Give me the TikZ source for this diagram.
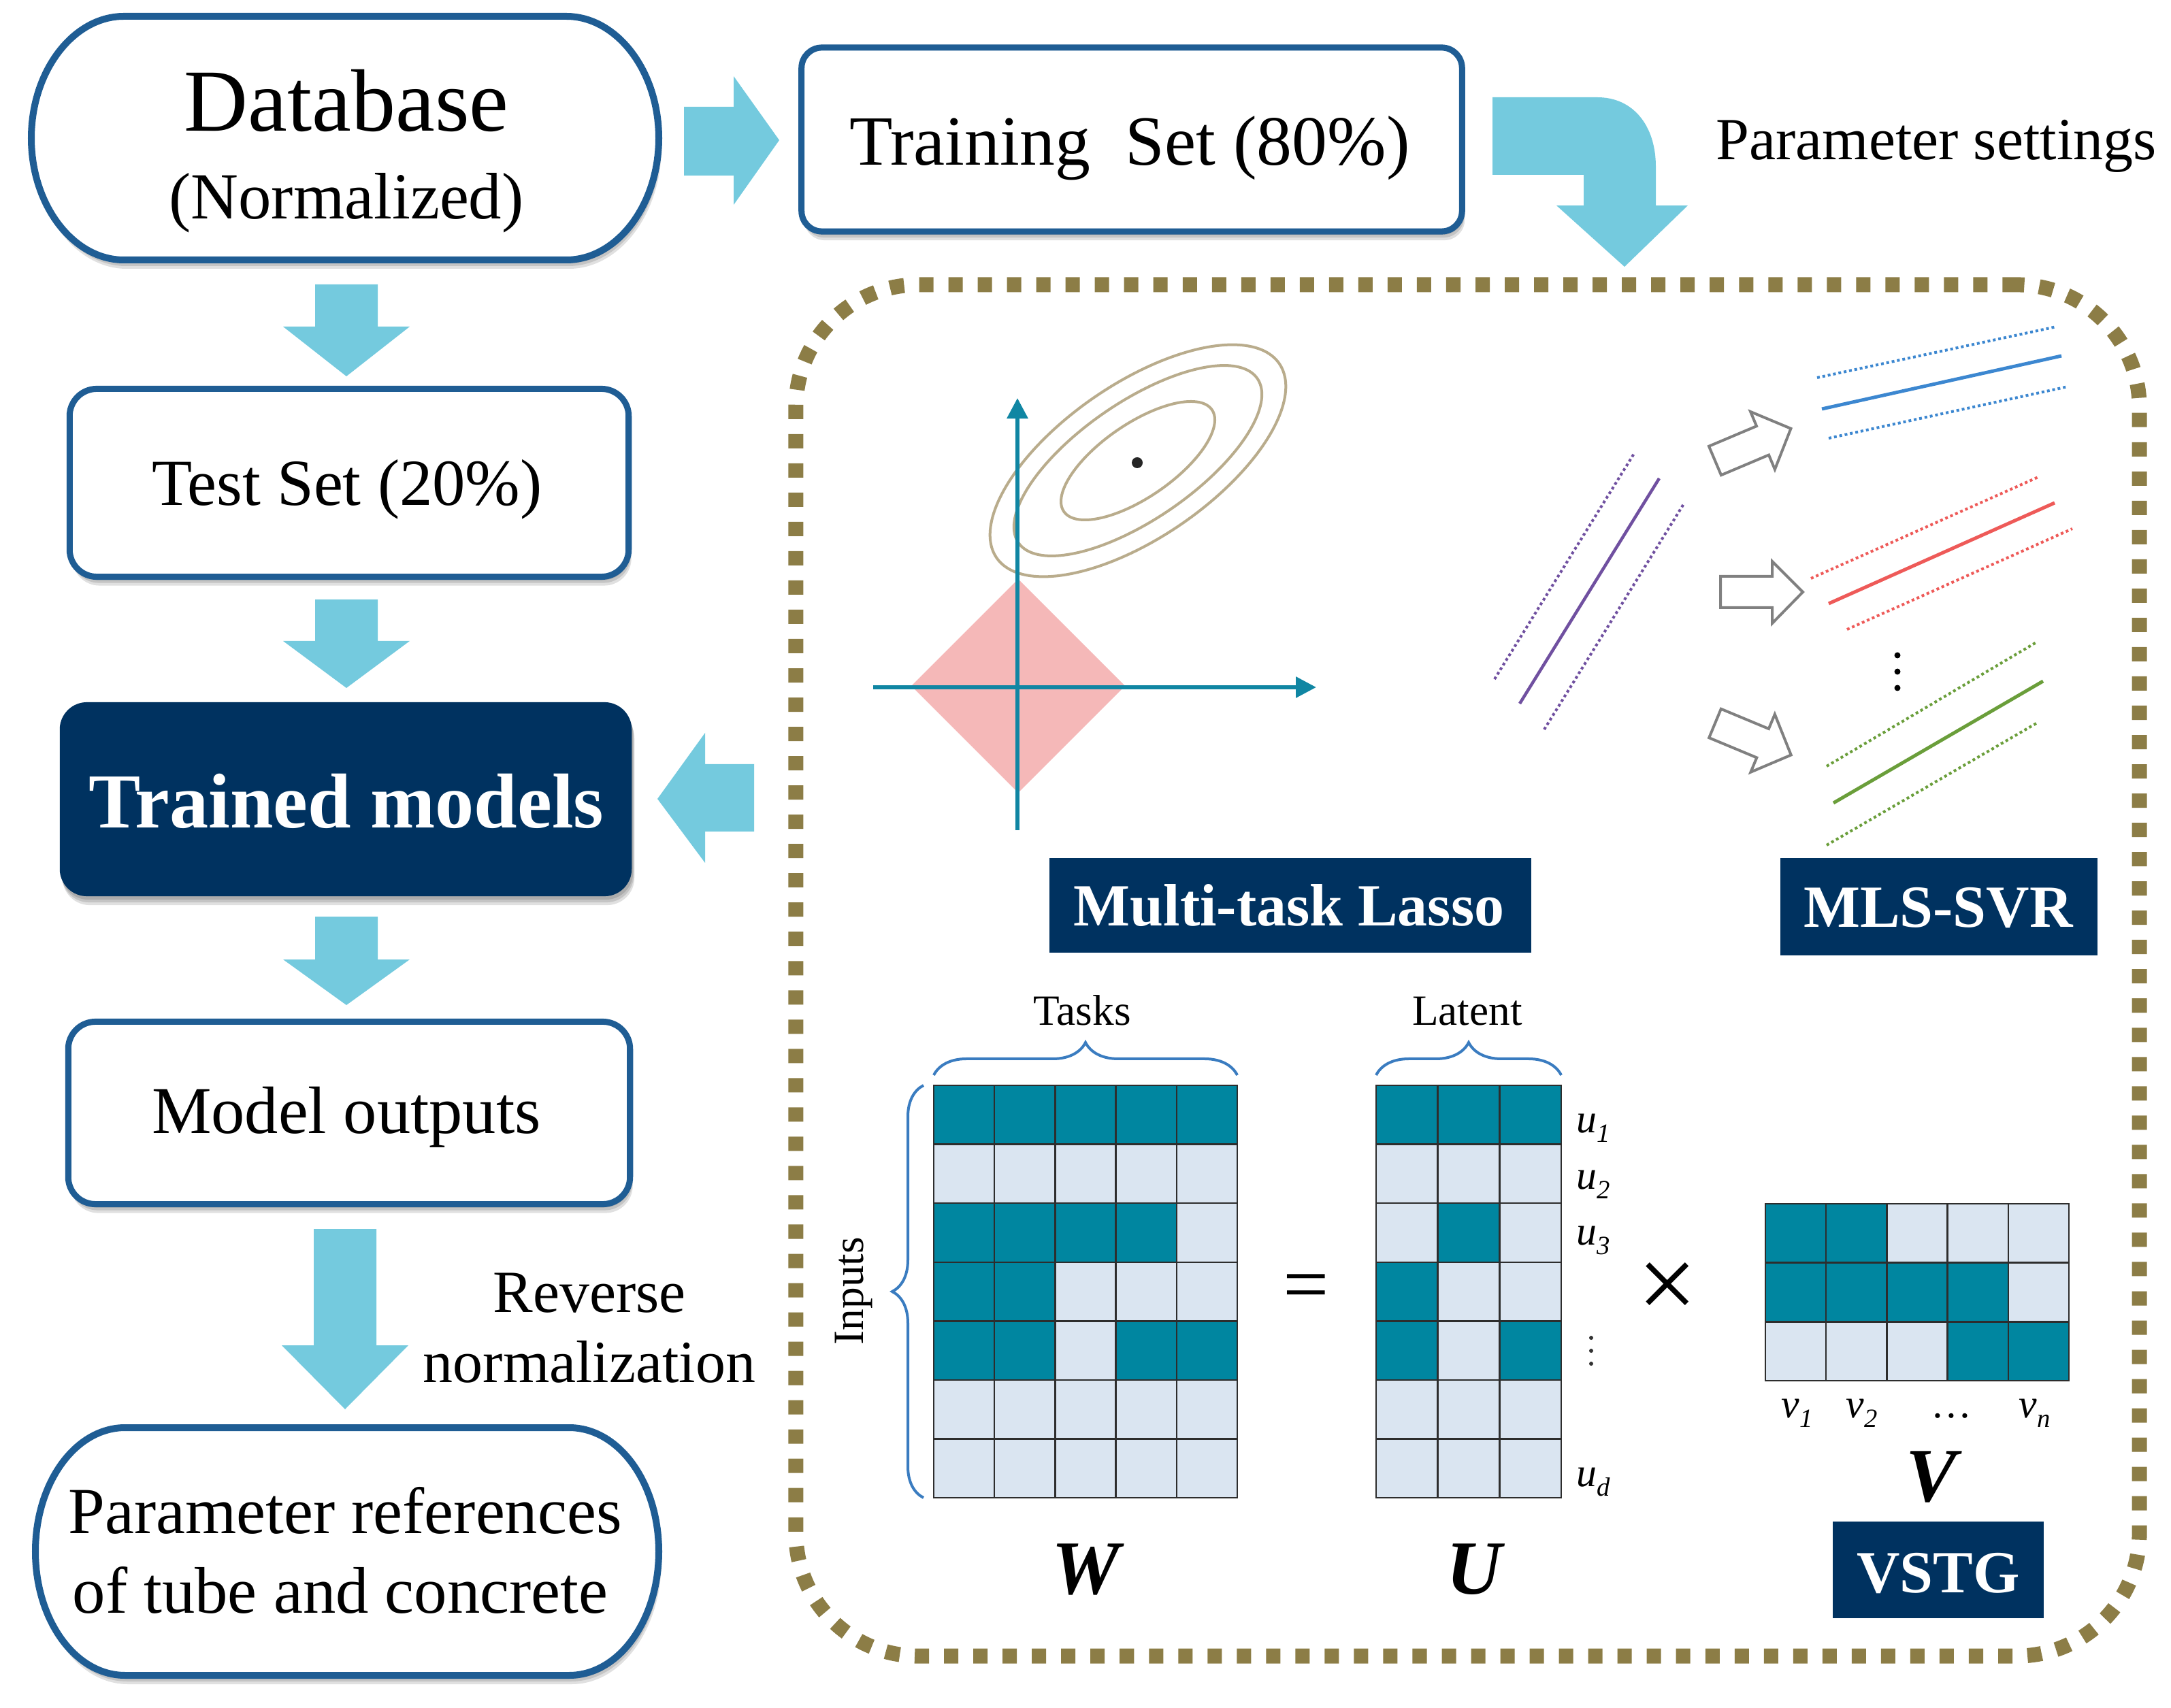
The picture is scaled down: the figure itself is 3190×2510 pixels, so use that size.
\documentclass[tikz,border=0pt]{standalone}
\usepackage{fontspec}
\setmainfont{Liberation Serif}
\usetikzlibrary{decorations.pathreplacing,arrows.meta}
\definecolor{bord}{RGB}{31,93,148}
\definecolor{navy}{RGB}{0,50,96}
\definecolor{blk}{RGB}{116,202,222}
\definecolor{olivec}{RGB}{140,125,70}
\definecolor{axisc}{RGB}{16,134,163}
\definecolor{dpink}{RGB}{245,184,184}
\definecolor{ellc}{RGB}{185,172,140}
\definecolor{mteal}{RGB}{0,134,160}
\definecolor{mlight}{RGB}{218,229,241}
\definecolor{gridc}{RGB}{45,45,45}
\definecolor{bracec}{RGB}{58,124,192}
\definecolor{lpurple}{RGB}{112,80,160}
\definecolor{lblue}{RGB}{60,135,208}
\definecolor{lred}{RGB}{238,90,88}
\definecolor{lgreen}{RGB}{106,158,58}
\definecolor{hollowc}{RGB}{128,128,128}
\colorlet{c1}{mteal}
\colorlet{c0}{mlight}
\newcommand{\setfs}[1]{\fontsize{#1}{#1}\selectfont}
\newcommand{\blkdown}[4]{\fill[blk] ({#1-46},#2) -- ({#1+46},#2) -- ({#1+46},#3) -- ({#1+93},#3) -- (#1,#4) -- ({#1-93},#3) -- ({#1-46},#3) -- cycle;}
\newcommand{\mymat}[5]{%
  \foreach \rw [count=\r from 0] in {#5} {
    \foreach \v [count=\c from 0] in \rw {
      \draw[fill=c\v, draw=gridc, line width=0.025cm] ({#1+\c*#3},{#2+\r*#4}) rectangle ++(#3,#4);
    }
  }
}
\tikzset{
  sh/.style={preaction={fill=black,opacity=0.12,transform canvas={xshift=0.02cm,yshift=-0.05cm}},
             preaction={fill=black,opacity=0.12,transform canvas={xshift=0.03cm,yshift=-0.09cm}},
             preaction={fill=black,opacity=0.12,transform canvas={xshift=0.04cm,yshift=-0.13cm}}},
  bbox/.style={draw=bord, line width=0.09cm, fill=white, rounded corners=0.4cm, sh, inner sep=0},
  txt/.style={inner sep=0, anchor=base},
  lab/.style={fill=navy, text=white, inner sep=0, font=\bfseries},
  dotl/.style={line width=0.04cm, dash pattern=on 0.04cm off 0.04cm},
  soll/.style={line width=0.05cm},
  hol/.style={draw=hollowc, line width=0.04cm, line join=miter},
  ax/.style={draw=axisc, line width=0.06cm, -{Triangle[width=0.3cm,length=0.3cm]}},
  brc/.style={draw=bracec, line width=0.04cm, decorate, decoration={brace, amplitude=0.48cm}},
  ell/.style={draw=ellc, line width=0.04cm}
}
\begin{document}
\begin{tikzpicture}[x=0.01cm, y=-0.01cm]
\fill[white] (0,0) rectangle (3190,2510);
\useasboundingbox (0,0) rectangle (3190,2510);

% ---------- left column ----------
% Database
\draw[draw=bord, line width=0.1cm, fill=white, sh]
  (182,24) -- (832,24) .. controls (906,24) and (968,104) .. (968,203)
  .. controls (968,302) and (906,382) .. (832,382) -- (182,382)
  .. controls (108,382) and (46,302) .. (46,203)
  .. controls (46,104) and (108,24) .. (182,24) -- cycle;
\node[inner sep=0, minimum width=9.22cm, minimum height=3.58cm] (db) at (507,203) {};
\node[txt] (dbt1) at (509,193) {\setfs{37}Database};
\node[txt] (dbt2) at (509,322) {\setfs{27.5}(Normalized)};

% Training set
\node[bbox, rounded corners=0.3cm, minimum width=9.7cm, minimum height=2.7cm] (train) at (1663,205) {};
\node[txt] (traint) at (1660,243) {\setfs{29.5}Training\ \ Set (80\%)};
\node[txt] (pset) at (2845,235) {\setfs{25}Parameter settings};

% Test set
\node[bbox, minimum width=8.21cm, minimum height=2.76cm] (test) at (513,709.5) {};
\node[txt] (testt) at (510,743) {\setfs{27.5}Test Set (20\%)};

% Trained models
\node[fill=navy, rounded corners=0.4cm, sh, inner sep=0, minimum width=8.4cm, minimum height=2.85cm] (trained) at (508,1174.5) {};
\node[txt, text=white] (trainedt) at (509,1216) {\setfs{32.5}\bfseries Trained models};

% Model outputs
\node[bbox, minimum width=8.25cm, minimum height=2.68cm] (model) at (513,1635.5) {};
\node[txt] (modelt) at (509,1665) {\setfs{28}Model outputs};

% Parameter references
\draw[draw=bord, line width=0.1cm, fill=white, sh]
  (184,2098) -- (836,2098) .. controls (910,2098) and (968,2180) .. (968,2280)
  .. controls (968,2380) and (910,2462) .. (836,2462) -- (184,2462)
  .. controls (110,2462) and (52,2380) .. (52,2280)
  .. controls (52,2180) and (110,2098) .. (184,2098) -- cycle;
\node[inner sep=0, minimum width=9.16cm, minimum height=3.64cm] (par) at (510,2280) {};
\node[txt] (part1) at (507,2253) {\setfs{27.5}Parameter references};
\node[txt] (part2) at (500,2370) {\setfs{27.5}of tube and concrete};

\node[txt] (rev1) at (866,1928) {\setfs{25}Reverse};
\node[txt] (rev2) at (866,2031) {\setfs{25}normalization};

% ---------- block arrows ----------
\fill[blk] (1005,157) -- (1078,157) -- (1078,112) -- (1145,206) -- (1078,301) -- (1078,258) -- (1005,258) -- cycle;
\fill[blk] (2193,143) -- (2347,143) .. controls (2400,143) and (2433,185) .. (2433,245) -- (2433,302)
  -- (2480,302) -- (2387,392) -- (2287,302) -- (2327,302) -- (2327,257) -- (2193,257) -- cycle;
\blkdown{509}{418}{480}{553}
\blkdown{509}{881}{942}{1011}
\blkdown{509}{1347}{1410}{1477}
\blkdown{507}{1806}{1977}{2071}
\fill[blk] (1108,1123) -- (1036,1123) -- (1036,1077) -- (966,1174) -- (1036,1268) -- (1036,1222) -- (1108,1222) -- cycle;

% ---------- dotted panel ----------
\node[draw=olivec, line width=0.22cm, dash pattern=on 0.21cm off 0.22cm, rounded corners=1.8cm,
      inner sep=0, minimum width=19.73cm, minimum height=20.14cm] (panel) at (2156.5,1426) {};

% ---------- Lasso sketch ----------
\fill[dpink] (1339,1008) -- (1496,851) -- (1653,1008) -- (1496,1165) -- cycle;
\draw[ell] plot[domain=0:360, samples=181] ({1672+252*cos(\x)*0.8241+113*sin(\x)*0.5664},{677-252*cos(\x)*0.5664+113*sin(\x)*0.8241}) -- cycle;
\draw[ell] plot[domain=0:360, samples=181] ({1672+213*cos(\x)*0.8241+86*sin(\x)*0.5664},{677-213*cos(\x)*0.5664+86*sin(\x)*0.8241}) -- cycle;
\draw[ell] plot[domain=0:360, samples=181] ({1672+132*cos(\x)*0.8241+54*sin(\x)*0.5664},{677-132*cos(\x)*0.5664+54*sin(\x)*0.8241}) -- cycle;
\fill[black!85] (1671,680) circle (0.08cm);
\draw[ax] (1495,1220) -- (1495,585);
\draw[ax] (1283,1010) -- (1934,1010);

% ---------- SVR sketch ----------
\draw[lpurple, dotl] (2196,998) -- (2402,665);
\draw[lpurple, line width=0.045cm] (2233,1034) -- (2438,703);
\draw[lpurple, dotl] (2269,1072) -- (2475,739);

\draw[hol] (2511.0,655.8) -- (2581.0,626.2) -- (2572.1,605.0) -- (2631.4,629.8) -- (2607.9,689.8) -- (2599.0,668.6) -- (2529.0,698.2) -- cycle;
\draw[hol] (2528,847) -- (2604,847) -- (2604,825) -- (2649,870) -- (2604,916) -- (2604,893) -- (2528,893) -- cycle;
\draw[hol] (2528.8,1041.8) -- (2598.9,1071.0) -- (2607.8,1049.7) -- (2631.7,1109.5) -- (2572.4,1134.7) -- (2581.3,1113.4) -- (2511.2,1084.2) -- cycle;

\draw[lblue, dotl] (2670,555) -- (3022,480);
\draw[lblue, soll] (2677,601) -- (3029,523);
\draw[lblue, dotl] (2687,644) -- (3039,568);
\draw[lred, dotl] (2661,850) -- (2995,701);
\draw[lred, soll] (2687,887) -- (3019,739);
\draw[lred, dotl] (2714,925) -- (3045,777);
\draw[lgreen, dotl] (2684,1126) -- (2992,944);
\draw[lgreen, soll] (2694,1180) -- (3002,1001);
\draw[lgreen, dotl] (2684,1242) -- (2992,1063);
\fill[black] (2788,963) circle (0.045cm) (2788,987) circle (0.045cm) (2788,1011) circle (0.045cm);

% ---------- labels ----------
\node[lab, minimum width=7.08cm, minimum height=1.39cm] (mtl) at (1896,1330.5) {};
\node[txt, text=white] (mtlt) at (1894,1360) {\setfs{25}\bfseries Multi-task Lasso};
\node[lab, minimum width=4.66cm, minimum height=1.43cm] (svr) at (2849,1332.5) {};
\node[txt, text=white] (svrt) at (2848,1363) {\setfs{25}\bfseries MLS-SVR};
\node[lab, minimum width=3.1cm, minimum height=1.42cm] (vstg) at (2848,2307) {};
\node[txt, text=white] (vstgt) at (2848,2340) {\setfs{25}\bfseries VSTG};

% ---------- matrices ----------
\mymat{1372}{1595}{89.2}{86.6}{{1,1,1,1,1},{0,0,0,0,0},{1,1,1,1,0},{1,1,0,0,0},{1,1,0,1,1},{0,0,0,0,0},{0,0,0,0,0}}
\mymat{2022}{1595}{90.7}{86.6}{{1,1,1},{0,0,0},{0,1,0},{1,0,0},{1,0,1},{0,0,0},{0,0,0}}
\mymat{2594}{1769}{89.2}{86.7}{{1,1,0,0,0},{1,1,1,1,0},{0,0,0,1,1}}

\draw[brc] (1372,1580) -- (1818,1580);
\draw[brc] (2022,1580) -- (2294,1580);
\draw[brc, decoration={amplitude=0.46cm}] (1357,2201) -- (1357,1595);
\node[txt] (tasks) at (1590,1506) {\setfs{18}Tasks};
\node[txt] (latent) at (2156,1506) {\setfs{18}Latent};
\node[inner sep=0, rotate=90] (inputs) at (1254,1897) {\setfs{18}Inputs};

\node[inner sep=0] (eq) at (1919,1900) {\setfs{34}=};
\node[inner sep=0] (times) at (2450,1897) {\setfs{44}×};

\node[txt, anchor=base west] (u1) at (2316,1664) {\setfs{17}\textit{u}\raisebox{-4pt}{\setfs{11}\textit{1}}};
\node[txt, anchor=base west] (u2) at (2316,1747) {\setfs{17}\textit{u}\raisebox{-4pt}{\setfs{11}\textit{2}}};
\node[txt, anchor=base west] (u3) at (2316,1829) {\setfs{17}\textit{u}\raisebox{-4pt}{\setfs{11}\textit{3}}};
\fill[black!80] (2338,1966) circle (0.03cm) (2338,1985) circle (0.03cm) (2338,2004) circle (0.03cm);
\node[txt, anchor=base west] (u4) at (2316,2184) {\setfs{17}\textit{u}\raisebox{-4pt}{\setfs{11}\textit{d}}};

\node[txt, anchor=base west] (v1) at (2617,2083) {\setfs{17}\textit{v}\raisebox{-4pt}{\setfs{11}\textit{1}}};
\node[txt, anchor=base west] (v2) at (2712,2083) {\setfs{17}\textit{v}\raisebox{-4pt}{\setfs{11}\textit{2}}};
\node[txt] (vdots) at (2867,2083) {\setfs{17}…};
\node[txt, anchor=base west] (vn) at (2966,2083) {\setfs{17}\textit{v}\raisebox{-4pt}{\setfs{11}\textit{n}}};

\node[txt] (Wl) at (1596,2342) {\setfs{32}\bfseries\itshape W};
\node[txt] (Ul) at (2166,2342) {\setfs{32}\bfseries\itshape U};
\node[txt] (Vl) at (2838,2206) {\setfs{32}\bfseries\itshape V};
\end{tikzpicture}
\end{document}
